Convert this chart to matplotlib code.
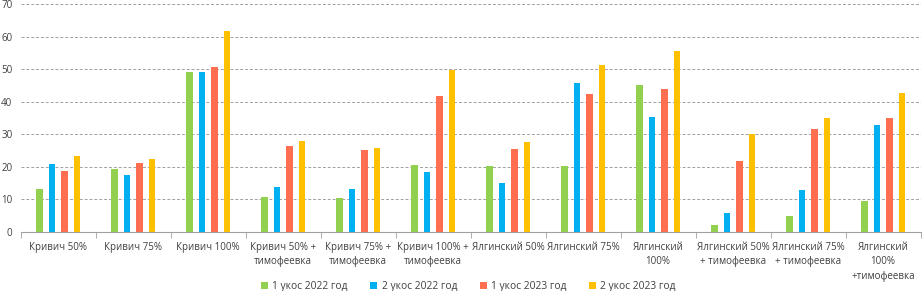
import numpy as np
import matplotlib.pyplot as plt

plt.rcParams['font.family'] = ['Open Sans', 'DejaVu Sans']

categories = ["Кривич 50%", "Кривич 75%", "Кривич 100%",
              "Кривич 50% +\nтимофеевка", "Кривич 75% +\nтимофеевка",
              "Кривич 100% +\nтимофеевка", "Ялгинский 50%", "Ялгинский 75%",
              "Ялгинский\n100%", "Ялгинский 50%\n+ тимофеевка",
              "Ялгинский 75%\n+ тимофеевка", "Ялгинский\n100%\n+тимофеевка"]

cut1_2022 = [13.1, 19.3, 49.0, 10.7, 10.4, 20.6, 20.2, 20.2, 45.2, 2.0, 4.9, 9.5]
cut2_2022 = [21.0, 17.4, 49.0, 13.9, 13.1, 18.3, 15.1, 45.8, 35.4, 5.8, 12.8, 33.0]
cut1_2023 = [18.6, 21.3, 50.8, 26.3, 25.1, 41.9, 25.4, 42.5, 44.0, 21.9, 31.7, 34.9]
cut2_2023 = [23.2, 22.5, 61.8, 27.9, 25.9, 49.7, 27.7, 51.4, 55.7, 30.1, 35.1, 42.7]

series = [cut1_2022, cut2_2022, cut1_2023, cut2_2023]
names = ["1 укос 2022 год", "2 укос 2022 год", "1 укос 2023 год", "2 укос 2023 год"]
colors = ["#92D050", "#00B0F0", "#FF6E50", "#FFC000"]

fig = plt.figure(figsize=(9.22, 2.91), dpi=100)
ax = fig.add_axes([0.0225, 0.203, 0.976, 0.783])

x = np.arange(len(categories))
offsets = [-1.5, -0.5, 0.5, 1.5]
for vals, name, col, off in zip(series, names, colors, offsets):
    ax.bar(x + off * 0.167, vals, width=0.088, color=col, label=name, zorder=3)

ax.set_ylim(0, 70)
ax.set_xlim(-0.5, len(categories) - 0.5)
ax.set_yticks(range(0, 71, 10))
ax.yaxis.grid(True, linestyle=(0, (3, 2)), color="#A0A0A0", linewidth=0.7, zorder=0)
ax.set_xticks(x)
ax.set_xticklabels(categories, fontsize=7, color="#404040", linespacing=1.45)
ax.set_xticks(np.arange(-0.5, len(categories), 1), minor=True)
ax.tick_params(axis='x', which='major', length=0, pad=7)
ax.tick_params(axis='x', which='minor', length=4, color="#A0A0A0")
ax.tick_params(axis='y', length=0, labelsize=7, labelcolor="#404040", pad=6)
for s in ["top", "right", "left"]:
    ax.spines[s].set_visible(False)
ax.spines["bottom"].set_color("#A0A0A0")

fig.legend(loc="lower center", bbox_to_anchor=(0.508, -0.035), ncol=4, frameon=False,
           fontsize=7.4, handlelength=0.7, handleheight=0.7, columnspacing=2.2,
           handletextpad=0.4, labelcolor="#404040")

fig.savefig("out.png", dpi=100)
